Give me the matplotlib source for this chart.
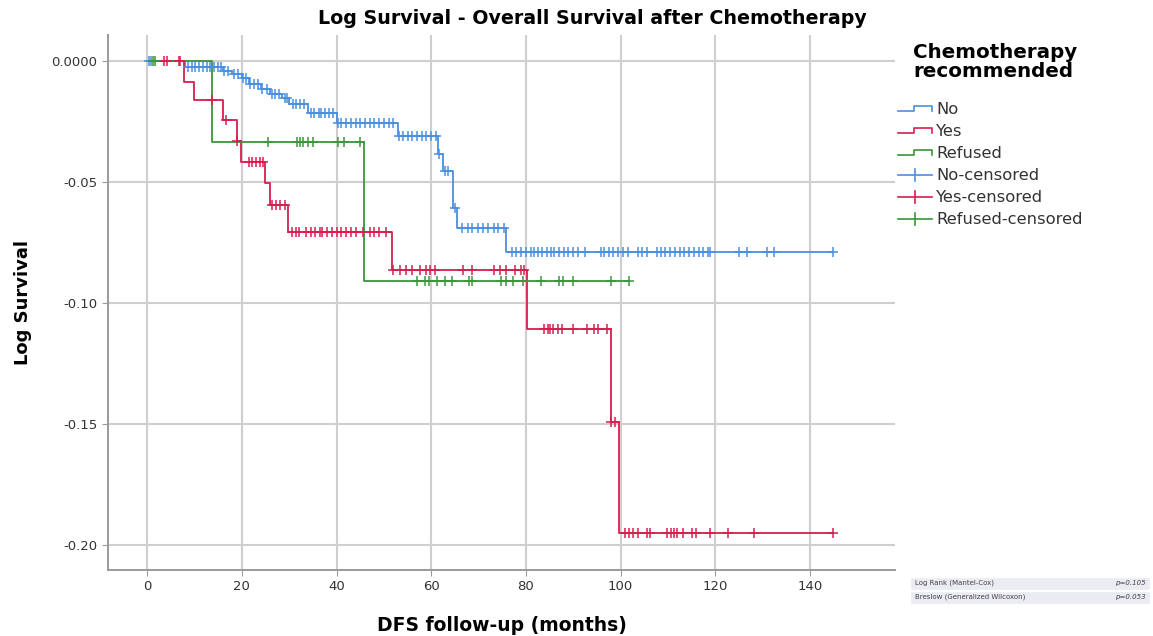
import numpy as np
import matplotlib
matplotlib.use("Agg")
import matplotlib.pyplot as plt
from matplotlib.lines import Line2D
from matplotlib.patches import Rectangle

# step curves: event times (months) and log survival after each event
no_times = [8, 16, 18, 20, 21.5, 24, 26, 28.5, 30, 34, 40, 53, 61.5, 62.5, 64.5, 65.5, 75.8]
no_logs = [-0.0025, -0.004, -0.0055, -0.007, -0.0095, -0.0115, -0.0135, -0.0155, -0.018,
           -0.0215, -0.0258, -0.031, -0.0386, -0.0454, -0.0606, -0.069, -0.079]
no_cens = [0.3, 0.8, 8.7, 9.5, 10.1, 11, 11.8, 12.7, 13.3, 14.2, 15, 15.6, 16.3, 17.1, 18.4, 19.2,
           20.3, 20.9, 21.8, 22.6, 23.3, 24.3, 25.2, 26.4, 27, 27.9, 29, 29.6, 30.7, 31.5, 32.3, 33.2,
           34.7, 35.3, 36.2, 36.8, 37.6, 38.5, 39.3, 40.2, 41, 42, 43, 44, 45, 46, 47, 48, 49, 50, 51, 52,
           53.2, 54, 55, 56, 57, 58, 59, 60, 61, 61.7, 63, 63.6, 65.1, 66.6, 67.7, 68.7, 69.8, 71, 72.1,
           73.2, 74.2, 75.3, 77, 78, 79, 80, 81, 81.7, 82.5, 83.5, 84.5, 85.3, 86, 87, 88, 89, 90, 91,
           92.5, 95.8, 96.5, 97.5, 98.5, 99.5, 100.5, 101.5, 103.6, 104.5, 105.7, 107.8, 108.6, 109.5,
           110.5, 111.5, 112.5, 113.5, 114.5, 115.5, 116.5, 117.5, 118.5, 119, 125, 126.7, 131, 132.5, 145]

yes_times = [7.7, 9.8, 16, 19, 19.7, 24.9, 26, 29.8, 51.8, 80.3, 97.9, 99.6]
yes_logs = [-0.0086, -0.0161, -0.0244, -0.0331, -0.0416, -0.0505, -0.0595, -0.0705,
            -0.0862, -0.1109, -0.149, -0.1952]
yes_cens = [3.5, 4.2, 6.6, 7.0, 13.7, 16.7, 19.0, 21.4, 22.2, 23, 23.9, 24.5, 26.4, 27.3, 28.1, 29,
            30.5, 31.5, 32, 33.5, 34.5, 35.5, 36.5, 37, 38, 39, 40, 41, 42, 43, 44, 45.5, 47, 48, 49, 50.5,
            51.9, 53.5, 54.6, 56, 57.7, 58.8, 59.8, 60.9, 66.8, 68.6, 73.2, 74.6, 75.7, 77.8, 78.9, 79.5,
            83.8, 84.6, 85.2, 85.8, 86.7, 87.7, 89.9, 93, 94.3, 95.3, 97.2, 98, 98.8,
            101, 101.7, 102.7, 103.6, 105.7, 106.3, 109.9, 110.6, 111.2, 112, 113.1, 115.2, 115.9,
            119, 122.8, 128.1, 145]

ref_times = [13.7, 45.7]
ref_logs = [-0.0336, -0.091]
ref_cens = [1.3, 1.7, 25.6, 31.6, 32.3, 33, 34, 35, 40.4, 41.5, 45, 57, 58.6, 59.6, 61.3, 63, 64.3,
            67.9, 68.7, 74.8, 75.9, 77.2, 79.3, 83.1, 86.9, 87.9, 89.9, 97.9, 101.7]

groups = ["No", "Yes", "Refused"]
colors = {"No": "#4a8fe0", "Yes": "#d81e4f", "Refused": "#3b953b"}

tests = ["Log Rank (Mantel-Cox)", "Breslow (Generalized Wilcoxon)"]
p_values = ["p=0.105", "p=0.053"]

curves = {"No": (no_times, no_logs, no_cens),
          "Yes": (yes_times, yes_logs, yes_cens),
          "Refused": (ref_times, ref_logs, ref_cens)}

plt.rcParams['font.family'] = ['DejaVu Sans']

W, H = 1153, 636
fig = plt.figure(figsize=(W / 100, H / 100), dpi=100)
ax = fig.add_axes([108 / W, 1 - 570 / H, (895 - 108) / W, (570 - 35) / H])

for g in groups:
    t, v, c = curves[g]
    xs = np.array([0] + list(t) + [max(c)])
    ys = np.array([0] + list(v) + [v[-1]])
    ax.step(xs, ys, where='post', color=colors[g], lw=1.3, zorder=3)
    c = np.array(c)
    idx = np.searchsorted(xs, c, side='right') - 1
    ax.plot(c, ys[idx], ls='none', marker='+', ms=6.5, mew=1.1, color=colors[g], zorder=4)

ax.set_xlim(-8.3, 158)
ax.set_ylim(-0.2103, 0.0107)
ax.set_xticks(range(0, 141, 20))
ax.set_yticks([0, -0.05, -0.10, -0.15, -0.20])
ax.set_yticklabels(["0.0000", "-0.05", "-0.10", "-0.15", "-0.20"])
ax.grid(True, color='#cfcfcf', lw=1.5)
ax.set_axisbelow(True)
for s in ['top', 'right']:
    ax.spines[s].set_visible(False)
for s in ['left', 'bottom']:
    ax.spines[s].set_color('#9a9a9a')
    ax.spines[s].set_linewidth(1.4)
ax.tick_params(colors='#9a9a9a', labelcolor='#333333', labelsize=9.5, length=4)

ax.set_xlabel("DFS follow-up (months)", fontsize=13.5, fontweight='bold', labelpad=16)
ax.set_ylabel("Log Survival", fontsize=13, fontweight='bold', labelpad=14)
fig.text(592 / W, 1 - 19 / H, "Log Survival - Overall Survival after Chemotherapy",
         ha='center', va='center', fontsize=13.7, fontweight='bold')

# legend drawn in pixel coordinates
def px(x, y):
    return x / W, 1 - y / H

fig.text(*px(913, 62), "Chemotherapy\nrecommended", ha='left', va='center',
         fontsize=14.3, fontweight='bold', linespacing=0.95)
labels = groups + [g + "-censored" for g in groups]
for i, lab in enumerate(labels):
    yy = 109 + 22 * i
    col = colors[lab.split("-")[0]]
    if i < 3:
        xs = [898, 914, 914, 932, 932]
        ys = [yy + 2, yy + 2, yy - 3, yy - 3, yy + 2]
        fx, fy = zip(*[px(a, b) for a, b in zip(xs, ys)])
        fig.add_artist(Line2D(fx, fy, color=col, lw=1.2))
    else:
        fx, fy = zip(*[px(a, b) for a, b in zip([898, 932], [yy, yy])])
        fig.add_artist(Line2D(fx, fy, color=col, lw=1.2))
        fx, fy = zip(*[px(a, b) for a, b in zip([915, 915], [yy - 6, yy + 6])])
        fig.add_artist(Line2D(fx, fy, color=col, lw=1.2))
    fig.text(*px(936, yy), lab, ha='left', va='center', fontsize=11.8, color='#333333')

# test table
for i, (name, p) in enumerate(zip(tests, p_values)):
    y0 = 576 + 14 * i
    x0, y1 = px(910, y0 + 14)
    fig.add_artist(Rectangle((x0, y1), (1150 - 910) / W, 13.5 / H, facecolor='#ebebf3',
                             edgecolor='white', lw=1, transform=fig.transFigure))
    fig.text(*px(915, y0 + 7), name, ha='left', va='center', fontsize=5, color='#444444')
    fig.text(*px(1146, y0 + 7), p, ha='right', va='center', fontsize=5, color='#444444',
             style='italic')

fig.savefig("out.png", dpi=100)
